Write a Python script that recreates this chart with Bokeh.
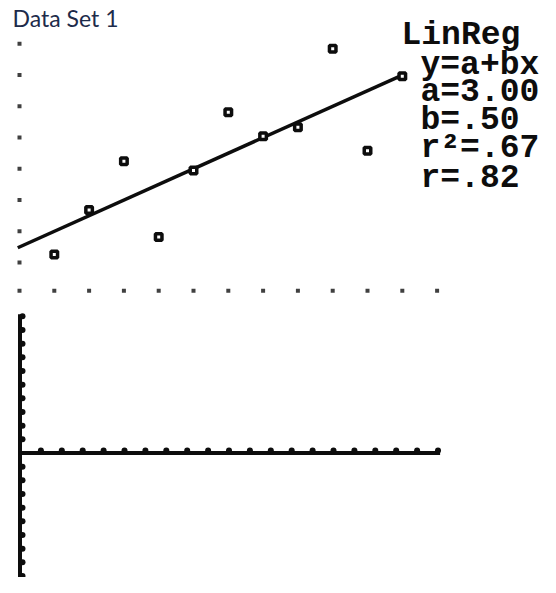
from bokeh.plotting import figure
from bokeh.models import Label, Range1d
from bokeh.layouts import column
from bokeh.embed import file_html
from bokeh.resources import INLINE

# ---- data (Anscombe data set 1) ----
x1 = [10, 8, 13, 9, 11, 14, 6, 4, 12, 7, 5]
y1 = [8.04, 6.95, 7.58, 8.81, 8.33, 9.96, 7.24, 4.26, 10.84, 4.82, 5.68]
reg_a = 3.00
reg_b = 0.50
reg_r2 = 0.67
reg_r = 0.82
title_text = "Data Set 1"
stat_lines = ["LinReg", "y=a+bx", "a=3.00", "b=.50", "r\u00b2=.67", "r=.82"]

# grid dots of the scatter window
grid_cols = list(range(3, 16))     # x positions of the bottom row of dots
grid_rows = list(range(4, 12))     # y positions of the left column of dots
grid_left_x = 3
grid_bottom_y = 3.1

# residual window ticks
res_xticks = list(range(1, 21))
res_yticks = [v for v in range(-10, 11) if v != 0]

INK = "#0d0d0d"

# ---------------- top: scatter + regression ----------------
top = figure(width=540, height=300, x_range=Range1d(2.454, 17.971), y_range=Range1d(2.788, 12.385),
             output_backend="svg", toolbar_location=None, min_border=0,
             x_axis_location=None, y_axis_location=None)
top.grid.visible = False
top.outline_line_color = None
top.background_fill_color = "white"

# grid dots
top.scatter(x=grid_cols, y=[grid_bottom_y] * len(grid_cols), marker="square", size=4,
            color="#404040", line_color=None)
top.scatter(x=[grid_left_x] * len(grid_rows), y=grid_rows, marker="square", size=4,
            color="#404040", line_color=None)

# regression line
lx = [grid_left_x - 0.05, max(x1)]
ly = [reg_a + reg_b * v for v in lx]
top.line(x=lx, y=ly, line_color=INK, line_width=3.5)

# data points: open squares with heavy border
top.scatter(x=x1, y=y1, marker="square", size=6.5, fill_color="white", line_color=INK, line_width=3.5)

# title
top.add_layout(Label(x=12, y=283, x_units="screen", y_units="screen", text=title_text,
                     text_font="Lato", text_font_size="23px", text_color="#1d2b4a",
                     text_baseline="alphabetic"))

# stats text
stat_pos = [(401, 265), (420, 235), (420, 208), (420, 180), (420, 152), (420, 122)]
for (sx, sy), t in zip(stat_pos, stat_lines):
    top.add_layout(Label(x=sx, y=sy, x_units="screen", y_units="screen", text=t,
                         text_font="Liberation Mono", text_font_size="33px", text_color=INK,
                         text_font_style="bold", text_baseline="alphabetic"))

# ---------------- bottom: residual window ----------------
bot = figure(width=540, height=277, x_range=Range1d(-0.933, 24.904), y_range=Range1d(-9.108, 11.156),
             output_backend="svg", toolbar_location=None, min_border=0,
             x_axis_location=None, y_axis_location=None)
bot.grid.visible = False
bot.outline_line_color = None
bot.background_fill_color = "white"

px_x = 20.9   # pixels per unit in x
px_y = 13.67  # pixels per unit in y

bot.line(x=[0, 0], y=[bot.y_range.start - 1, 10.15], line_color=INK, line_width=4)
bot.line(x=[0, 20.1], y=[0, 0], line_color=INK, line_width=4)
bot.scatter(x=[2.5 / px_x] * len(res_yticks), y=res_yticks, marker="circle", size=6,
            color=INK, line_color=None)
bot.scatter(x=res_xticks, y=[2.5 / px_y] * len(res_xticks), marker="circle", size=6,
            color=INK, line_color=None)

layout = column(top, bot)
open("out.html", "w").write(file_html(layout, INLINE))
